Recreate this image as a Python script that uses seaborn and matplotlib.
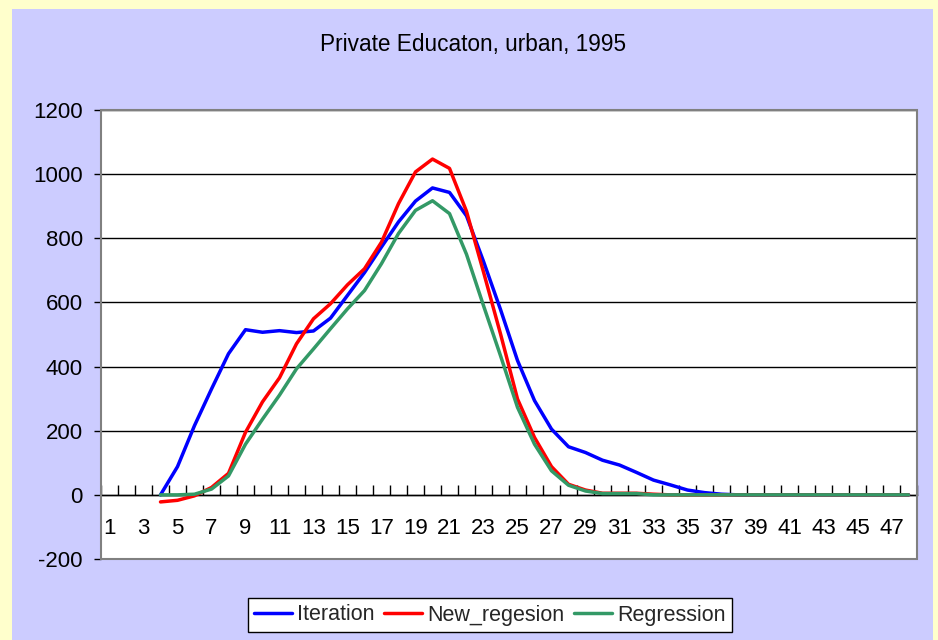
import numpy as np
import pandas as pd
import seaborn as sns
import matplotlib.pyplot as plt
from matplotlib.patches import Rectangle

# categories 1..48, series start at category 4
categories = list(range(1, 49))
nan = np.nan
iteration = [nan, nan, nan, 0, 88, 216, 330, 440, 515, 507, 512, 506, 511, 551, 622, 693,
             773, 851, 916, 957, 943, 870, 728, 578, 419, 294, 205, 150, 132, 108, 93, 70,
             46, 31, 15, 7, 2, 0, 0, 0, 0, 0, 0, 0, 0, 0, 0, 0]
new_regesion = [nan, nan, nan, -22, -17, -3, 23, 67, 195, 290, 365, 471, 549, 596, 655, 705,
                788, 908, 1007, 1047, 1018, 884, 695, 502, 299, 179, 88, 33, 15, 5, 5, 5,
                2, 0, 0, 0, 0, 0, 0, 0, 0, 0, 0, 0, 0, 0, 0, 0]
regression = [nan, nan, nan, 0, 0, 2, 18, 59, 158, 236, 311, 393, 455, 518, 580, 637,
              721, 815, 887, 917, 877, 750, 590, 434, 273, 158, 75, 30, 12, 4, 4, 4,
              0, 0, 0, 0, 0, 0, 0, 0, 0, 0, 0, 0, 0, 0, 0, 0]
series_names = ['Iteration', 'New_regesion', 'Regression']
colors = ['#0000FF', '#FF0000', '#339966']

df = pd.DataFrame({'cat': categories, 'Iteration': iteration,
                   'New_regesion': new_regesion, 'Regression': regression})
df = df.melt(id_vars='cat', var_name='series', value_name='value').dropna()

sns.set_style('white')
plt.rcParams['font.family'] = ['Liberation Sans', 'DejaVu Sans']
plt.rcParams['axes.unicode_minus'] = False

fig = plt.figure(figsize=(9.38, 6.4), dpi=100, facecolor='#FFFFCC')
fig.patches.append(Rectangle((12 / 938, 0), 921 / 938, 1 - 9 / 640, transform=fig.transFigure,
                             facecolor='#CCCCFF', edgecolor='none', zorder=-10))
ax = fig.add_axes([101 / 938, 1 - 559 / 640, 816 / 938, 449 / 640])
ax.set_facecolor('white')

sns.lineplot(data=df, x='cat', y='value', hue='series', hue_order=series_names,
             palette=colors, linewidth=2.5, ax=ax, legend=False, zorder=3)

ax.set_xlim(0.5, 48.5)
ax.set_ylim(-200, 1200)
ax.set_yticks(range(-200, 1201, 200))
ax.tick_params(axis='y', labelsize=16, length=5, width=1, direction='out', pad=8, left=True,
               colors='black')
for v in range(-200, 1201, 200):
    ax.axhline(v, color='black', linewidth=1, zorder=1)

# category axis crossing at zero
ax.spines['bottom'].set_position(('data', 0))
ax.spines['bottom'].set_color('black')
ax.spines['bottom'].set_linewidth(1)
ax.set_xticks(np.arange(0.5, 49, 1))
ax.set_xticklabels([])
ax.set_xticks(categories[::2], minor=True)
ax.set_xticklabels([str(c) for c in categories[::2]], minor=True)
ax.tick_params(axis='x', which='major', direction='in', length=7, width=1, color='black', bottom=True)
ax.tick_params(axis='x', which='minor', length=0, labelsize=16, pad=17, bottom=True,
               labelcolor='black')
for s in ['left', 'right', 'top']:
    ax.spines[s].set_color('#808080')
    ax.spines[s].set_linewidth(1.2)
ax.add_patch(Rectangle((0, 0), 1, 1, transform=ax.transAxes, fill=False,
                       edgecolor='#808080', linewidth=1.5, zorder=5, clip_on=False))
ax.set_xlabel('')
ax.set_ylabel('')

fig.text(473 / 938, 1 - 45 / 640, 'Private Educaton, urban, 1995', ha='center', va='center',
         fontsize=16.3, color='black')

handles = [plt.Line2D([], [], color=c, linewidth=2.5) for c in colors]
leg = fig.legend(handles, series_names, loc='center', bbox_to_anchor=(490 / 938, 1 - 615 / 640),
                 ncol=3, fontsize=15.5, frameon=True, fancybox=False, framealpha=1,
                 handlelength=1.75, handletextpad=0.25, columnspacing=0.45, borderpad=0.3,
                 borderaxespad=0)
leg.get_frame().set_edgecolor('black')
leg.get_frame().set_linewidth(1)

fig.savefig('out.png', dpi=100, facecolor=fig.get_facecolor())
